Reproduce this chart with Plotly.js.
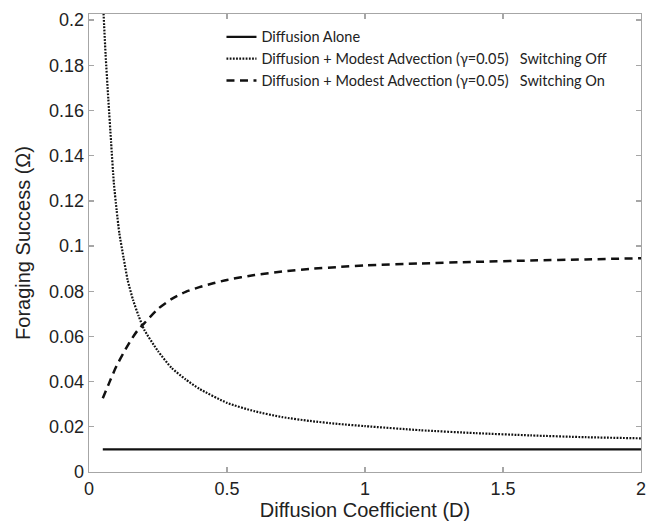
<!DOCTYPE html>
<html>
<head>
<meta charset="utf-8">
<script src="https://cdn.plot.ly/plotly-3.0.1.min.js"></script>
<style>html,body{margin:0;padding:0;background:#fff;}#chart{width:657px;height:523px;}</style>
</head>
<body>
<div id="chart"></div>
<script>
// Diffusion alone
const aloneD = [0.05, 2.0];
const aloneY = [0.01, 0.01];

// Diffusion + modest advection, switching off (dotted)
const offD = [0.05, 0.06, 0.07, 0.08, 0.09, 0.10, 0.11, 0.125, 0.14, 0.16, 0.18, 0.20, 0.25, 0.30, 0.35, 0.40, 0.50, 0.60, 0.70, 0.80, 0.90, 1.00, 1.20, 1.40, 1.60, 1.80, 2.00];
const offY = [0.21, 0.185, 0.165, 0.146, 0.128, 0.116, 0.1056, 0.095, 0.085, 0.076, 0.069, 0.063, 0.0535, 0.046, 0.041, 0.0368, 0.0306, 0.0269, 0.0243, 0.0226, 0.0213, 0.0203, 0.0185, 0.0172, 0.0162, 0.0154, 0.0149];

// Diffusion + modest advection, switching on (dashed)
const onD = [0.05, 0.075, 0.10, 0.125, 0.15, 0.175, 0.20, 0.25, 0.30, 0.35, 0.40, 0.45, 0.50, 0.60, 0.70, 0.80, 0.90, 1.00, 1.20, 1.40, 1.60, 1.80, 2.00];
const onY = [0.0326, 0.040, 0.047, 0.0527, 0.058, 0.0625, 0.0658, 0.0722, 0.0766, 0.0797, 0.0818, 0.0835, 0.085, 0.0872, 0.0887, 0.0899, 0.0907, 0.0914, 0.0923, 0.093, 0.0936, 0.0941, 0.0946];

const seriesNames = [
  'Diffusion Alone',
  'Diffusion + Modest Advection (\u03b3=0.05)\u00a0\u00a0\u00a0Switching Off',
  'Diffusion + Modest Advection (\u03b3=0.05)\u00a0\u00a0\u00a0Switching On'
];
const xTicks = [0, 0.5, 1, 1.5, 2];
const xTickText = ['0', '0.5', '1', '1.5', '2'];
const yTicks = [0, 0.02, 0.04, 0.06, 0.08, 0.1, 0.12, 0.14, 0.16, 0.18, 0.2];
const yTickText = ['0', '0.02', '0.04', '0.06', '0.08', '0.1', '0.12', '0.14', '0.16', '0.18', '0.2'];

const traces = [
  {x: aloneD, y: aloneY, name: seriesNames[0], mode: 'lines', line: {color: '#111', width: 2.2}},
  {x: offD, y: offY, name: seriesNames[1], mode: 'lines', line: {color: '#111', width: 2.2, dash: '1.8px,1.4px', shape: 'spline', smoothing: 0.6}},
  {x: onD, y: onY, name: seriesNames[2], mode: 'lines', line: {color: '#111', width: 2.5, dash: '8px,5.5px', shape: 'spline', smoothing: 0.6}}
];

const axisCommon = {
  showgrid: false, zeroline: false, showline: true, mirror: 'ticks',
  linecolor: '#a6a6a6', linewidth: 1.3, ticks: 'inside', ticklen: 5, tickcolor: '#a6a6a6', tickwidth: 1.3,
  tickfont: {family: 'Liberation Sans, Arial, sans-serif', size: 18, color: '#222'}
};

const layout = {
  width: 657, height: 523,
  margin: {l: 89, r: 16, t: 14, b: 51},
  paper_bgcolor: '#fff', plot_bgcolor: '#fff',
  showlegend: true,
  legend: {
    x: 0.24, y: 0.985, xanchor: 'left', yanchor: 'top',
    bgcolor: 'rgba(0,0,0,0)', borderwidth: 0,
    font: {family: 'Lato, sans-serif', size: 14.5, color: '#222'},
    tracegroupgap: 0, itemwidth: 30
  },
  xaxis: Object.assign({}, axisCommon, {
    range: [0, 2], tickvals: xTicks, ticktext: xTickText,
    title: {text: 'Diffusion Coefficient (D)', font: {family: 'Liberation Sans, Arial, sans-serif', size: 20, color: '#222'}, standoff: 2}
  }),
  yaxis: Object.assign({}, axisCommon, {
    range: [0, 0.2027], tickvals: yTicks, ticktext: yTickText,
    title: {text: 'Foraging Success (\u03a9)', font: {family: 'Liberation Sans, Arial, sans-serif', size: 20, color: '#222'}, standoff: 13}
  })
};

Plotly.newPlot('chart', traces, layout, {displayModeBar: false, staticPlot: true});
</script>
</body>
</html>
